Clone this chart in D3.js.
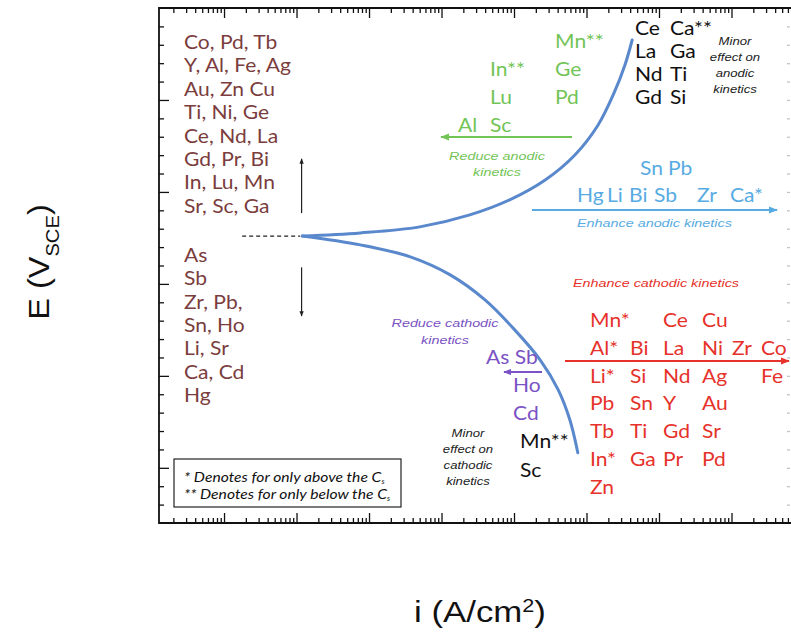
<!DOCTYPE html>
<html>
<head>
<meta charset="utf-8" />
<script src="https://cdn.jsdelivr.net/npm/d3@7"></script>
<style>
html, body { margin: 0; padding: 0; background: #fff; }
svg { display: block; }
.el { font-family: Lato, "Open Sans", sans-serif; font-size: 19.5px; }
.note { font-family: "Liberation Sans", Arial, sans-serif; font-style: italic; font-size: 11.5px; }
.legend { font-family: Lato, sans-serif; font-style: italic; font-size: 14px; }
.title { font-family: "Liberation Sans", Arial, sans-serif; font-size: 29px; }
</style>
</head>
<body>
<div id="chart"></div>
<script>
// log10 of current density at the left and right frame edges
var logDomain = [-8.897, -0.193];
// potential, arbitrary linear units (one unit per minor tick)
var eDomain = [-3, 25];

// polarization curve, anodic and cathodic branch
var anodicLogI = [-6.92, -6.12, -5.30, -4.61, -4.06, -3.57, -3.16, -2.84, -2.62, -2.47, -2.37];
var anodicE = [12.6, 12.77, 13.10, 13.75, 14.57, 15.65, 17.01, 18.64, 20.38, 21.90, 23.26];
var cathodicLogI = [-6.92, -6.12, -5.43, -4.88, -4.40, -3.99, -3.64, -3.39, -3.23, -3.12];
var cathodicE = [12.6, 12.12, 11.47, 10.49, 9.13, 7.50, 5.87, 4.24, 2.61, 0.82];

// corrosion potential marker
var ecorrLogI = [-7.75, -6.95];
var ecorrE = 12.6;

var nobleList = ["Co, Pd, Tb", "Y, Al, Fe, Ag", "Au, Zn Cu", "Ti, Ni, Ge", "Ce, Nd, La", "Gd, Pr, Bi", "In, Lu, Mn", "Sr, Sc, Ga"];
var activeList = ["As", "Sb", "Zr, Pb,", "Sn, Ho", "Li, Sr", "Ca, Cd", "Hg"];

var reduceAnodic = [[null, null, "Mn**"], [null, "In**", "Ge"], [null, "Lu", "Pd"], ["Al", "Sc", null]];
var minorAnodic = [["Ce", "Ca**"], ["La", "Ga"], ["Nd", "Ti"], ["Gd", "Si"]];
var enhanceAnodic = [["Sn", "Pb"], ["Hg", "Li", "Bi", "Sb", "Zr", "Ca*"]];
var enhanceCathodic = [
	["Mn*", null, "Ce", "Cu", null, null],
	["Al*", "Bi", "La", "Ni", "Zr", "Co"],
	["Li*", "Si", "Nd", "Ag", null, "Fe"],
	["Pb", "Sn", "Y", "Au"],
	["Tb", "Ti", "Gd", "Sr"],
	["In*", "Ga", "Pr", "Pd"],
	["Zn"]
];
var reduceCathodic = [["As Sb"], ["Ho"], ["Cd"]];
var minorCathodic = [["Mn**"], ["Sc"]];

var W = 791, H = 632;
var pLeft = 159, pRight = 790, pTop = 8, pBottom = 523;

var colors = {
	brown: "#7b3d3d",
	green: "#72c457",
	blue: "#58abe2",
	red: "#e6322b",
	purple: "#7a52c4",
	curve: "#5a88cc"
};

var svg = d3.select("#chart").append("svg").attr("width", W).attr("height", H);

var x = d3.scaleLog()
	.domain([Math.pow(10, logDomain[0]), Math.pow(10, logDomain[1])])
	.range([pLeft, pRight]);
var y = d3.scaleLinear().domain(eDomain).range([pBottom, pTop]);

// arrow heads
var defs = svg.append("defs");
Object.keys(colors).concat(["black"]).forEach(function(k) {
	var c = k === "black" ? "#222" : colors[k];
	defs.append("marker")
		.attr("id", "arrow-" + k)
		.attr("viewBox", "0 0 10 10")
		.attr("refX", 9).attr("refY", 5)
		.attr("markerWidth", 4.5).attr("markerHeight", 4.5)
		.attr("orient", "auto")
		.append("path")
		.attr("d", "M0,1 L10,5 L0,9 Z")
		.attr("fill", c);
});

// ---- axes (ticks pointing inwards, no labels)
var xTicks = x.ticks().filter(function(d) { return x(d) > pLeft + 1 && x(d) < pRight - 1; });
var isDecade = function(d) { return Math.abs(Math.log10(d) - Math.round(Math.log10(d))) < 1e-6; };
var xMajor = xTicks.filter(isDecade);
var xMinor = xTicks.filter(function(d) { return !isDecade(d); });

var yTicks = d3.range(eDomain[0] + 1, eDomain[1]);
var yMajor = yTicks.filter(function(d) { return d % 5 === 0; });
var yMinor = yTicks.filter(function(d) { return d % 5 !== 0; });

function drawAxis(axis, transform, faint) {
	var g = svg.append("g").attr("transform", transform).call(axis);
	g.selectAll("text").remove();
	g.select(".domain").remove();
	g.selectAll("line").attr("stroke", faint ? "#c4c4c4" : "#111").attr("stroke-width", 1.3);
	return g;
}

drawAxis(d3.axisBottom(x).tickValues(xMajor).tickSize(-10).tickFormat(""), "translate(0," + pBottom + ")");
drawAxis(d3.axisBottom(x).tickValues(xMinor).tickSize(-5).tickFormat(""), "translate(0," + pBottom + ")");
drawAxis(d3.axisTop(x).tickValues(xMajor).tickSize(-10).tickFormat(""), "translate(0," + pTop + ")");
drawAxis(d3.axisTop(x).tickValues(xMinor).tickSize(-5).tickFormat(""), "translate(0," + pTop + ")");
drawAxis(d3.axisLeft(y).tickValues(yMajor).tickSize(-10).tickFormat(""), "translate(" + pLeft + ",0)");
drawAxis(d3.axisLeft(y).tickValues(yMinor).tickSize(-5).tickFormat(""), "translate(" + pLeft + ",0)");
drawAxis(d3.axisRight(y).tickValues(yTicks).tickSize(-3).tickFormat(""), "translate(" + pRight + ",0)", true);

// frame
svg.append("path")
	.attr("d", "M" + (W + 2) + "," + pTop + " L" + pLeft + "," + pTop + " L" + pLeft + "," + pBottom + " L" + (W + 2) + "," + pBottom)
	.attr("fill", "none").attr("stroke", "#111").attr("stroke-width", 1.8);

// ---- curve
var line = d3.line()
	.x(function(d) { return x(Math.pow(10, d[0])); })
	.y(function(d) { return y(d[1]); })
	.curve(d3.curveCatmullRom.alpha(0.5));

[[anodicLogI, anodicE], [cathodicLogI, cathodicE]].forEach(function(br) {
	svg.append("path")
		.datum(d3.zip(br[0], br[1]))
		.attr("d", line)
		.attr("fill", "none")
		.attr("stroke", colors.curve)
		.attr("stroke-width", 3)
		.attr("stroke-linecap", "round");
});

svg.append("line")
	.attr("x1", x(Math.pow(10, ecorrLogI[0]))).attr("x2", x(Math.pow(10, ecorrLogI[1])))
	.attr("y1", y(ecorrE)).attr("y2", y(ecorrE))
	.attr("stroke", "#222").attr("stroke-width", 1.2).attr("stroke-dasharray", "4,3");

// up / down arrows at Ecorr
var arrowX = x(Math.pow(10, -6.93));
svg.append("line").attr("x1", arrowX).attr("x2", arrowX).attr("y1", y(13.85)).attr("y2", y(16.8))
	.attr("stroke", "#222").attr("stroke-width", 1.2).attr("marker-end", "url(#arrow-black)");
svg.append("line").attr("x1", arrowX).attr("x2", arrowX).attr("y1", y(10.9)).attr("y2", y(8.25))
	.attr("stroke", "#222").attr("stroke-width", 1.2).attr("marker-end", "url(#arrow-black)");

// ---- text helpers (the source figure's fonts are a bit wider, hence the x stretch)
var stretch = { el: 1.08, note: 1.25, legend: 1.12, title: 1.2 };

function label(tx, ty, str, cls, color, anchor) {
	return svg.append("text")
		.attr("class", cls)
		.attr("transform", "translate(" + tx + "," + ty + ") scale(" + stretch[cls] + ",1)")
		.attr("fill", color)
		.attr("text-anchor", anchor || "start")
		.text(str);
}

function grid(rows, cols, y0, dy, color) {
	rows.forEach(function(row, i) {
		row.forEach(function(t, j) {
			if (t) label(cols[j], y0 + i * dy, t, "el", color);
		});
	});
}

function hArrow(x1, x2, yy, color, width) {
	svg.append("line")
		.attr("x1", x1).attr("x2", x2).attr("y1", yy).attr("y2", yy)
		.attr("stroke", colors[color]).attr("stroke-width", width || 2)
		.attr("marker-end", "url(#arrow-" + color + ")");
}

// left columns
nobleList.forEach(function(t, i) { label(184, 49 + i * 23.4, t, "el", colors.brown); });
activeList.forEach(function(t, i) { label(184, 262 + i * 23.3, t, "el", colors.brown); });

// reduce anodic (green)
grid(reduceAnodic, [458, 490, 555], 48, 28, colors.green);
hArrow(572, 441, 137, "green", 2);
label(497, 160, "Reduce anodic", "note", colors.green, "middle");
label(497, 176, "kinetics", "note", colors.green, "middle");

// minor anodic (black)
grid(minorAnodic, [635, 670], 35, 23, "#111");
["Minor", "effect on", "anodic", "kinetics"].forEach(function(t, i) {
	label(735, 45 + i * 16, t, "note", "#222", "middle").style("font-size", "10.5px");
});

// enhance anodic (blue)
label(640, 175, enhanceAnodic[0][0], "el", colors.blue);
label(668, 175, enhanceAnodic[0][1], "el", colors.blue);
[577, 607, 629, 654, 697, 730].forEach(function(cx, j) {
	label(cx, 202, enhanceAnodic[1][j], "el", colors.blue);
});
hArrow(532, 777, 210, "blue", 2);
label(577, 227, "Enhance anodic kinetics", "note", colors.blue);

// enhance cathodic (red)
label(573, 287, "Enhance cathodic kinetics", "note", colors.red);
grid(enhanceCathodic, [590, 630, 663, 702, 732, 761], 327, 27.8, colors.red);
hArrow(565, 789, 361, "red", 2);

// reduce cathodic (purple)
label(445, 327, "Reduce cathodic", "note", colors.purple, "middle");
label(445, 344, "kinetics", "note", colors.purple, "middle");
label(486, 364, reduceCathodic[0][0], "el", colors.purple);
label(513, 392, reduceCathodic[1][0], "el", colors.purple);
label(513, 420, reduceCathodic[2][0], "el", colors.purple);
hArrow(542, 504, 372, "purple", 1.8);

// minor cathodic (black)
grid(minorCathodic, [520], 448, 29, "#111");
["Minor", "effect on", "cathodic", "kinetics"].forEach(function(t, i) {
	label(468, 437 + i * 16, t, "note", "#222", "middle").style("font-size", "10.5px");
});

// legend box
svg.append("rect").attr("x", 174).attr("y", 459).attr("width", 227).attr("height", 48)
	.attr("fill", "#fff").attr("stroke", "#222").attr("stroke-width", 1.2);
[["* Denotes for only above the C", 482], ["** Denotes for only below the C", 499]].forEach(function(d) {
	var t = label(184, d[1], d[0], "legend", "#111");
	t.append("tspan").attr("dy", 2).style("font-size", "7px").text("s");
});

// axis titles
var xt = label(480, 622, "i (A/cm", "title", "#111", "middle");
xt.append("tspan").attr("baseline-shift", "super").style("font-size", "18px").text("2");
xt.append("tspan").text(")");

var yt = svg.append("text").attr("class", "title")
	.attr("transform", "translate(49,262) rotate(-90) scale(1.12,1)")
	.attr("text-anchor", "middle").attr("fill", "#111")
	.text("E (V");
yt.append("tspan").attr("baseline-shift", "sub").style("font-size", "18px").text("SCE");
yt.append("tspan").text(")");
</script>
</body>
</html>
